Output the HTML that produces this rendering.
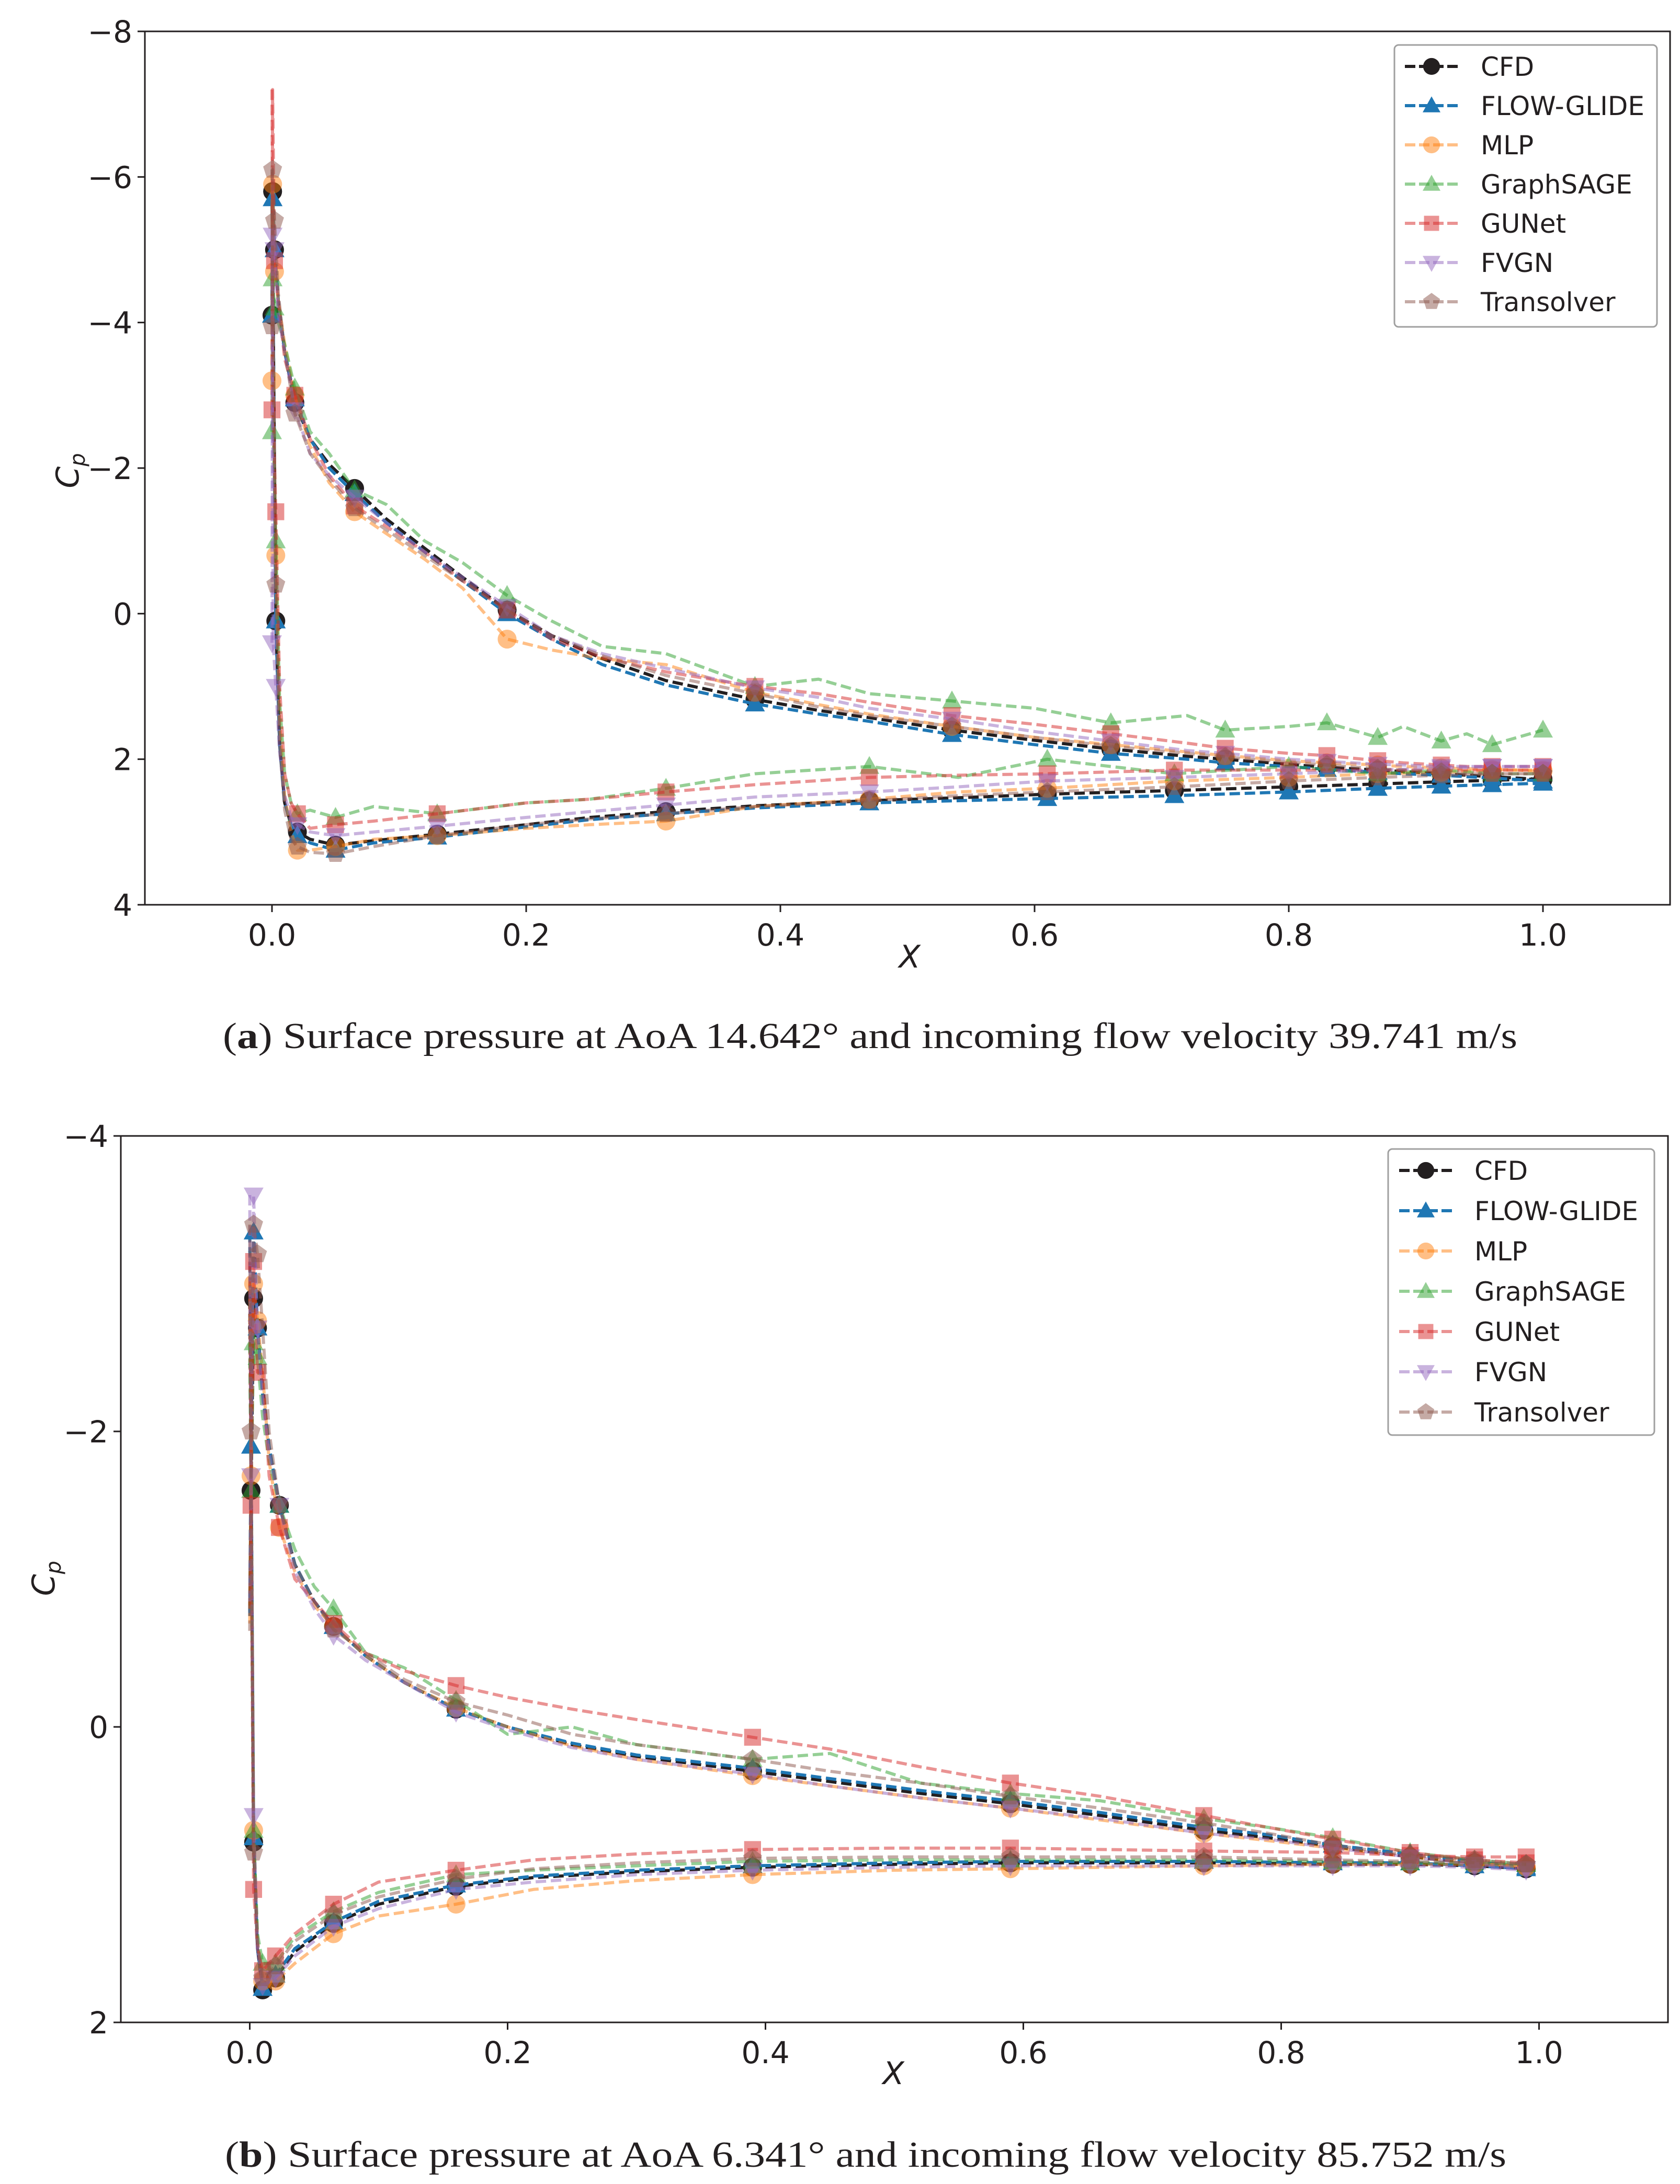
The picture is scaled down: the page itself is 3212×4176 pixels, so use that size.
<!DOCTYPE html>
<html><head><meta charset="utf-8">
<style>
html,body{margin:0;padding:0;background:#fff;}
svg{display:block;}
text{font-family:"DejaVu Sans","Liberation Sans",sans-serif;fill:#231f20;}
.cap{font-family:"Liberation Serif",serif;}
</style></head>
<body>
<svg id="fig" xmlns="http://www.w3.org/2000/svg" width="3212" height="4176" viewBox="0 0 3212 4176">
<rect width="3212" height="4176" fill="#fff"/>
<g id="pa"></g>
<g id="pb"></g>
<text class="cap" x="426" y="2004" font-size="70" textLength="2475" lengthAdjust="spacingAndGlyphs">(<tspan font-weight="bold">a</tspan>) Surface pressure at AoA 14.642° and incoming flow velocity 39.741 m/s</text>
<text class="cap" x="430" y="4143" font-size="70" textLength="2450" lengthAdjust="spacingAndGlyphs">(<tspan font-weight="bold">b</tspan>) Surface pressure at AoA 6.341° and incoming flow velocity 85.752 m/s</text>
</svg>
<script>
// ---------- data ----------
const seriesNames = ["CFD","FLOW-GLIDE","MLP","GraphSAGE","GUNet","FVGN","Transolver"];
const xTicks = [0,0.2,0.4,0.6,0.8,1.0];
const xTickLabels = ["0.0","0.2","0.4","0.6","0.8","1.0"];
const yTicksA = [-8,-6,-4,-2,0,2,4];
const yTickLabelsA = ["\u22128","\u22126","\u22124","\u22122","0","2","4"];
const yTicksB = [-4,-2,0,2];
const yTickLabelsB = ["\u22124","\u22122","0","2"];

// Plot (a) upper surface
const xUA = [0,0.0005,0.002,0.005,0.01,0.018,0.03,0.045,0.065,0.09,0.12,0.15,0.185,0.22,0.26,0.31,0.38,0.43,0.47,0.535,0.6,0.66,0.72,0.75,0.8,0.83,0.87,0.89,0.92,0.94,0.96,0.98,1.0];
const cfdUA = [-4.1,-5.8,-5.0,-4.3,-3.6,-2.9,-2.4,-2.05,-1.72,-1.3,-0.9,-0.5,-0.05,0.3,0.62,0.92,1.18,1.33,1.43,1.6,1.74,1.86,1.96,2.0,2.07,2.11,2.15,2.17,2.2,2.22,2.24,2.26,2.28];
const fgUA = [-4.1,-5.7,-5.0,-4.3,-3.6,-2.95,-2.4,-2.0,-1.65,-1.25,-0.85,-0.45,0.0,0.35,0.7,0.98,1.24,1.38,1.48,1.66,1.8,1.92,2.0,2.05,2.1,2.14,2.18,2.2,2.22,2.24,2.26,2.28,2.3];
const mlpUA = [-3.2,-5.9,-4.7,-4.3,-3.7,-3.0,-2.3,-1.8,-1.4,-1.1,-0.75,-0.35,0.35,0.5,0.62,0.7,1.08,1.25,1.38,1.55,1.7,1.8,1.9,1.95,2.02,2.05,2.08,2.1,2.12,2.13,2.14,2.15,2.17];
const gsUA = [-2.5,-4.6,-4.2,-4.0,-3.7,-3.1,-2.5,-2.2,-1.7,-1.5,-1.0,-0.7,-0.25,0.1,0.45,0.55,1.0,0.9,1.1,1.2,1.3,1.5,1.4,1.6,1.55,1.5,1.7,1.55,1.75,1.65,1.8,1.7,1.6];
const gunUA = [-2.8,-7.2,-4.85,-4.3,-3.5,-3.0,-2.4,-1.9,-1.48,-1.2,-0.85,-0.45,-0.05,0.35,0.6,0.8,1.0,1.1,1.22,1.4,1.52,1.65,1.78,1.85,1.92,1.95,2.02,2.05,2.08,2.1,2.1,2.1,2.1];
const fvUA = [0.4,-5.2,-5.0,-4.1,-3.6,-2.8,-2.2,-1.9,-1.6,-1.25,-0.85,-0.5,-0.1,0.3,0.55,0.75,1.02,1.15,1.3,1.45,1.62,1.75,1.88,1.92,2.0,2.03,2.07,2.08,2.1,2.1,2.1,2.1,2.1];
const trUA = [-3.95,-6.1,-5.4,-4.4,-3.6,-2.75,-2.2,-1.85,-1.45,-1.15,-0.8,-0.45,-0.05,0.3,0.58,0.85,1.1,1.28,1.4,1.55,1.7,1.82,1.92,1.97,2.04,2.08,2.13,2.15,2.18,2.2,2.2,2.2,2.2];
// Plot (a) lower surface
const xLA = [0,0.001,0.003,0.006,0.01,0.015,0.02,0.03,0.05,0.08,0.13,0.2,0.25,0.31,0.38,0.47,0.54,0.61,0.71,0.8,0.87,0.92,0.96,1.0];
const cfdLA = [-5.8,-4.1,0.1,1.8,2.6,2.9,3.0,3.1,3.18,3.12,3.03,2.9,2.8,2.72,2.64,2.57,2.53,2.48,2.43,2.38,2.34,2.31,2.29,2.27];
const fgLA = [-5.7,-4.1,0.1,1.8,2.6,2.9,3.05,3.15,3.25,3.15,3.07,2.93,2.83,2.75,2.67,2.6,2.57,2.54,2.5,2.45,2.4,2.37,2.35,2.33];
const mlpLA = [-5.9,-3.2,-0.8,1.5,2.5,3.0,3.25,3.25,3.2,3.1,3.05,2.95,2.9,2.85,2.65,2.55,2.45,2.4,2.3,2.25,2.2,2.18,2.15,2.15];
const gsLA = [-4.6,-2.5,-1.0,1.2,2.2,2.6,2.75,2.7,2.8,2.65,2.75,2.6,2.55,2.4,2.2,2.1,2.25,2.0,2.2,2.1,2.2,2.15,2.2,2.2];
const gunLA = [-7.2,-2.8,-1.4,1.0,2.2,2.6,2.75,2.95,2.9,2.85,2.75,2.6,2.55,2.45,2.35,2.25,2.22,2.2,2.15,2.15,2.15,2.15,2.15,2.15];
const fvLA = [-5.2,0.4,1.0,1.9,2.5,2.8,2.9,3.0,3.05,3.0,2.92,2.8,2.72,2.63,2.52,2.45,2.38,2.3,2.25,2.2,2.15,2.12,2.1,2.1];
const trLA = [-6.1,-3.95,-0.4,1.8,2.7,3.1,3.2,3.28,3.3,3.2,3.05,2.9,2.82,2.75,2.65,2.57,2.5,2.45,2.38,2.3,2.25,2.22,2.2,2.2];

// Plot (b) upper surface
const xUB = [0,0.001,0.003,0.006,0.01,0.015,0.023,0.035,0.05,0.065,0.09,0.12,0.16,0.2,0.25,0.3,0.39,0.45,0.52,0.59,0.66,0.74,0.79,0.84,0.9,0.95,0.99];
const cfdUB = [-0.78,-1.6,-2.9,-2.7,-2.3,-1.9,-1.5,-1.1,-0.85,-0.68,-0.48,-0.3,-0.12,0.0,0.12,0.2,0.3,0.37,0.45,0.52,0.6,0.7,0.75,0.81,0.88,0.92,0.96];
const fgUB = [-0.75,-1.9,-3.35,-2.7,-2.25,-1.9,-1.5,-1.1,-0.85,-0.68,-0.48,-0.3,-0.12,0.0,0.11,0.19,0.28,0.35,0.43,0.5,0.58,0.68,0.73,0.8,0.86,0.91,0.95];
const mlpUB = [-0.7,-1.7,-3.0,-2.75,-2.4,-1.8,-1.35,-1.05,-0.82,-0.68,-0.48,-0.3,-0.13,0.0,0.13,0.22,0.33,0.4,0.48,0.55,0.63,0.72,0.77,0.82,0.88,0.92,0.95];
const gsUB = [-0.8,-1.6,-2.6,-2.5,-2.1,-1.8,-1.5,-1.2,-0.95,-0.8,-0.5,-0.4,-0.18,0.05,0.0,0.12,0.22,0.18,0.38,0.45,0.5,0.62,0.68,0.75,0.85,0.9,0.93];
const gunUB = [-0.8,-1.5,-3.15,-2.4,-2.4,-1.7,-1.35,-1.0,-0.85,-0.7,-0.5,-0.38,-0.28,-0.2,-0.12,-0.05,0.07,0.15,0.27,0.38,0.47,0.6,0.68,0.76,0.85,0.9,0.92];
const fvUB = [-0.85,-1.7,-3.6,-2.7,-2.2,-1.85,-1.5,-1.05,-0.8,-0.62,-0.45,-0.3,-0.1,0.02,0.14,0.22,0.32,0.4,0.48,0.55,0.62,0.72,0.76,0.82,0.88,0.93,0.96];
const trUB = [-0.65,-2.0,-3.4,-3.2,-2.7,-2.0,-1.5,-1.1,-0.85,-0.66,-0.5,-0.32,-0.17,-0.08,0.05,0.12,0.22,0.3,0.38,0.47,0.55,0.65,0.72,0.8,0.87,0.9,0.93];
// Plot (b) lower surface
const xLB = [0,0.001,0.003,0.006,0.01,0.02,0.035,0.065,0.1,0.16,0.22,0.3,0.39,0.5,0.59,0.74,0.84,0.9,0.95,0.99];
const cfdLB = [-2.9,-1.6,0.78,1.5,1.78,1.7,1.52,1.33,1.2,1.08,1.02,0.98,0.95,0.93,0.92,0.92,0.93,0.93,0.94,0.96];
const fgLB = [-3.35,-1.9,0.75,1.5,1.77,1.68,1.5,1.32,1.18,1.07,1.01,0.97,0.94,0.92,0.91,0.91,0.92,0.92,0.94,0.96];
const mlpLB = [-3.0,-1.7,0.7,1.45,1.72,1.72,1.6,1.4,1.28,1.2,1.1,1.04,1.0,0.97,0.96,0.94,0.93,0.93,0.93,0.94];
const gsLB = [-2.6,-1.6,0.7,1.4,1.6,1.6,1.42,1.25,1.12,1.0,0.97,0.94,0.91,0.9,0.9,0.9,0.91,0.92,0.92,0.93];
const gunLB = [-3.15,-1.5,1.1,1.5,1.65,1.55,1.4,1.2,1.05,0.97,0.9,0.86,0.83,0.82,0.82,0.84,0.85,0.87,0.88,0.88];
const fvLB = [-3.6,-1.7,0.6,1.5,1.75,1.7,1.55,1.35,1.23,1.1,1.05,1.0,0.97,0.95,0.94,0.94,0.94,0.94,0.95,0.97];
const trLB = [-3.4,-2.0,0.85,1.45,1.7,1.62,1.45,1.27,1.15,1.03,0.96,0.92,0.89,0.88,0.88,0.88,0.9,0.91,0.92,0.93];

const markIdxUA = [0,1,2,5,8,12,16,19,21,23,25,26,28,30,32];
const markIdxLA = [2,6,8,10,13,15,17,18,19,20,21,22,23];
const markIdxUB = [1,2,3,6,9,12,16,19,21,23,24,25,26];
const markIdxLB = [2,4,5,7,9,12,14,15,16,17,18,19];

// ---------- styles ----------
const colors = ["#231f20","#1f77b4","#ff7f0e","#2ca02c","#d62728","#9467bd","#8c564b"];
const alphas = [1,1,0.5,0.5,0.5,0.5,0.5];
const markers = ["circle","tri-up","circle","tri-up","square","tri-down","pentagon"];
const NS = "http://www.w3.org/2000/svg";

function el(tag, attrs, parent){
  const e = document.createElementNS(NS, tag);
  for (const k in attrs) e.setAttribute(k, attrs[k]);
  if (parent) parent.appendChild(e);
  return e;
}
function markerShape(type, cx, cy, r, color, op, parent){
  let e;
  if (type==="circle") e = el("circle",{cx:cx,cy:cy,r:r*0.95,fill:color,"fill-opacity":op},parent);
  else if (type==="square") e = el("rect",{x:cx-r*0.85,y:cy-r*0.85,width:r*1.7,height:r*1.7,fill:color,"fill-opacity":op},parent);
  else {
    let pts=[];
    if (type==="tri-up") pts=[[0,-r*1.05],[r,r*0.75],[-r,r*0.75]];
    else if (type==="tri-down") pts=[[0,r*1.05],[r,-r*0.75],[-r,-r*0.75]];
    else { for(let i=0;i<5;i++){const a=-Math.PI/2+i*2*Math.PI/5; pts.push([r*Math.cos(a),r*Math.sin(a)]);} }
    e = el("polygon",{points:pts.map(p=>(cx+p[0]).toFixed(1)+","+(cy+p[1]).toFixed(1)).join(" "),fill:color,"fill-opacity":op},parent);
  }
  return e;
}

function drawChart(g, cfg){
  const {L,R,T,B,xmin,xmax,ymin,ymax,yTicks,yLabels,xU,xL,U,Lo,mU,mL,leg,cpX,cpY,xlX,xlY,skipTop} = cfg;
  const sx = v => L + (v - xmin)/(xmax-xmin)*(R-L);
  const sy = v => T + (v - ymin)/(ymax-ymin)*(B-T);
  for (let s=0; s<seriesNames.length; s++){
    const sg = el("g",{},g);
    
    
    const pairs = [[xU,U[s],mU,true],[xL,Lo[s],mL,false]];
    for (const [xs,ys,mi,isU] of pairs){
      const pts = xs.map((x,i)=>sx(x).toFixed(1)+","+sy(ys[i]).toFixed(1)).join(" ");
      const line = el("polyline",{points:pts,fill:"none",stroke:colors[s],"stroke-opacity":alphas[s],"stroke-width":6,"stroke-dasharray":"20,9","stroke-linejoin":"round"},sg);
      
      
      for (const i of mi){
        if (skipTop && isU && s===4 && i===1) continue;
        const m = markerShape(markers[s], sx(xs[i]), sy(ys[i]), 19, colors[s], alphas[s], sg);
        
        
      }
    }
  }
  const fr = el("rect",{x:L,y:T,width:R-L,height:B-T,fill:"none",stroke:"#231f20","stroke-width":3},g);
  
  
  xTicks.forEach((v,i)=>{
    const x = sx(v);
    const t = el("line",{x1:x,y1:B,x2:x,y2:B+14,stroke:"#231f20","stroke-width":3},g);
    
    
    const tx = el("text",{x:x,y:B+78,"font-size":58,"text-anchor":"middle"},g);
    tx.textContent = xTickLabels[i];
    
    
  });
  yTicks.forEach((v,i)=>{
    const y = sy(v);
    const t = el("line",{x1:L-14,y1:y,x2:L,y2:y,stroke:"#231f20","stroke-width":3},g);
    
    
    const tx = el("text",{x:L-24,y:y+21,"font-size":58,"text-anchor":"end"},g);
    tx.textContent = yLabels[i];
    
    
  });
  const yt = el("text",{x:0,y:0,"font-size":60,"font-style":"italic","text-anchor":"middle",transform:`translate(${cpX},${cpY}) rotate(-90)`},g);
  yt.innerHTML = 'C<tspan font-size="40" dy="12">p</tspan>';
  
  
  const xt = el("text",{x:xlX,y:xlY,"font-size":60,"font-style":"italic","text-anchor":"middle"},g);
  xt.textContent = "X";
  
  
  const lg = el("g",{},g);
  
  
  el("rect",{x:leg.x,y:leg.y,width:leg.w,height:leg.h,rx:8,fill:"#fff","fill-opacity":0.85,stroke:"#a0a0a0","stroke-width":3},lg);
  seriesNames.forEach((n,s)=>{
    const y = leg.r0 + s*leg.dy;
    const ent = el("g",{},lg);
    
    
    el("line",{x1:leg.lx,y1:y,x2:leg.lx+101,y2:y,stroke:colors[s],"stroke-opacity":alphas[s],"stroke-width":6,"stroke-dasharray":"20,7"},ent);
    markerShape(markers[s], leg.lx+51, y, 17, colors[s], alphas[s], ent);
    const tx = el("text",{x:leg.tx,y:y+18,"font-size":50},ent);
    tx.textContent = n;
  });
}

drawChart(document.getElementById("pa"), {
  L:277,R:3193,T:60,B:1730,xmin:-0.1,xmax:1.1,ymin:-8,ymax:4,
  yTicks:yTicksA,yLabels:yTickLabelsA,xU:xUA,xL:xLA,
  U:[cfdUA,fgUA,mlpUA,gsUA,gunUA,fvUA,trUA],
  Lo:[cfdLA,fgLA,mlpLA,gsLA,gunLA,fvLA,trLA],
  mU:markIdxUA,mL:markIdxLA,skipTop:true,
  leg:{x:2666,y:86,w:502,h:539,r0:127,dy:75,lx:2686,tx:2831},
  cpX:150,cpY:900,xlX:1739,xlY:1850
});
drawChart(document.getElementById("pb"), {
  L:231,R:3189,T:2172,B:3867,xmin:-0.1,xmax:1.1,ymin:-4,ymax:2,
  yTicks:yTicksB,yLabels:yTickLabelsB,xU:xUB,xL:xLB,
  U:[cfdUB,fgUB,mlpUB,gsUB,gunUB,fvUB,trUB],
  Lo:[cfdLB,fgLB,mlpLB,gsLB,gunLB,fvLB,trLB],
  mU:markIdxUB,mL:markIdxLB,skipTop:false,
  leg:{x:2654,y:2197,w:509,h:547,r0:2238,dy:77,lx:2675,tx:2819},
  cpX:104,cpY:3018,xlX:1708,xlY:3985
});
</script>
</body></html>
